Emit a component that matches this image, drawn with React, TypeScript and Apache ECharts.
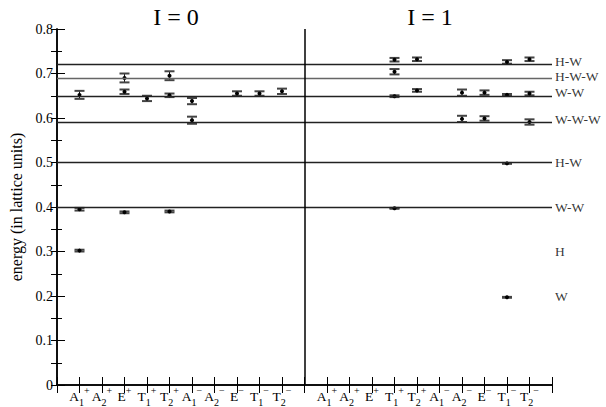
import React, { useEffect, useRef } from "react";
import * as echarts from "echarts";

// Category labels (irreps): base letter, subscript, parity superscript
const catBase = ["A", "A", "E", "T", "T", "A", "A", "E", "T", "T"];
const catSub = ["1", "2", "", "1", "2", "1", "2", "", "1", "2"];
const catSup = ["+", "+", "+", "+", "+", "−", "−", "−", "−", "−"];

// Panel titles
const panelTitles = ["I = 0", "I = 1"];

// I = 0 levels: category index (1..10), energy, error
const i0Cat = [1, 1, 1, 3, 3, 3, 4, 5, 5, 5, 6, 6, 8, 9, 10];
const i0Energy = [0.302, 0.395, 0.652, 0.388, 0.659, 0.690, 0.644, 0.390, 0.651, 0.695, 0.595, 0.638, 0.655, 0.655, 0.660];
const i0Err = [0.002, 0.003, 0.009, 0.002, 0.005, 0.010, 0.006, 0.002, 0.004, 0.010, 0.008, 0.007, 0.005, 0.005, 0.006];

// I = 1 levels: category index (1..10), energy, error
const i1Cat = [4, 4, 4, 4, 5, 5, 7, 7, 8, 8, 9, 9, 9, 9, 10, 10, 10];
const i1Energy = [0.397, 0.649, 0.704, 0.731, 0.662, 0.732, 0.598, 0.657, 0.599, 0.657, 0.197, 0.498, 0.652, 0.726, 0.591, 0.655, 0.732];
const i1Err = [0.001, 0.002, 0.006, 0.004, 0.003, 0.004, 0.007, 0.007, 0.005, 0.005, 0.001, 0.001, 0.002, 0.004, 0.006, 0.004, 0.004];

// Threshold lines and right-hand labels
const lineValues = [0.723, 0.695, 0.652, 0.591, 0.499, 0.397];
const lineColors = ["#222", "#666", "#222", "#222", "#222", "#222"];
const thresholdValues = [0.726, 0.694, 0.658, 0.597, 0.499, 0.399, 0.301, 0.198];
const thresholdNames = ["H-W", "H-W-W", "W-W", "W-W-W", "H-W", "W-W", "H", "W"];

const FONT = '"Liberation Serif", "Times New Roman", Times, serif';

function catLabel(v: number): string {
  let i = Math.round(v);
  if (i === 0 || i === 11 || i === 22) return "";
  if (i > 11) i -= 11;
  const k = i - 1;
  if (k < 0 || k > 9) return "";
  if (catSub[k]) return `{m|${catBase[k]}}{sb|${catSub[k]}}{sp|${catSup[k]}}`;
  return `{m|${catBase[k]}}{sp|${catSup[k]}}`;
}

export default function App() {
  const ref = useRef<HTMLDivElement>(null);
  useEffect(() => {
    if (!ref.current) return;
    const chart = echarts.init(ref.current, null, { renderer: "svg" });
    const d0 = i0Cat.map((c, i) => [c, i0Energy[i], i0Err[i]]);
    const d1 = i1Cat.map((c, i) => [c + 11, i1Energy[i], i1Err[i]]);
    const renderItem = (params: any, api: any) => {
      const x = api.value(0), y = api.value(1), e = api.value(2);
      const c = api.coord([x, y]);
      const t = api.coord([x, y + e]);
      const b = api.coord([x, y - e]);
      const hw = 5;
      const cap = { stroke: "#444", lineWidth: 2 };
      const st = { stroke: "#111", lineWidth: 1 };
      return {
        type: "group",
        children: [
          { type: "line", shape: { x1: c[0], y1: t[1], x2: c[0], y2: b[1] }, style: st },
          { type: "line", shape: { x1: c[0] - hw, y1: t[1], x2: c[0] + hw, y2: t[1] }, style: cap },
          { type: "line", shape: { x1: c[0] - hw, y1: b[1], x2: c[0] + hw, y2: b[1] }, style: cap },
          { type: "circle", shape: { cx: c[0], cy: c[1], r: 2 }, style: { fill: "#000" } },
        ],
      };
    };
    const rich = {
      m: { fontFamily: FONT, fontSize: 13.5, color: "#000", lineHeight: 22 },
      sp: { fontFamily: FONT, fontSize: 10, color: "#000", lineHeight: 11, verticalAlign: "top" },
      sb: { fontFamily: FONT, fontSize: 10, color: "#000", lineHeight: 10, verticalAlign: "bottom" },
    };
    const axisLine = { show: true, lineStyle: { color: "#000", width: 1.5 } };
    chart.setOption({
      animation: false,
      backgroundColor: "#fff",
      title: panelTitles.map((t, i) => ({
        text: t,
        left: i === 0 ? 171 : 425,
        textAlign: "center",
        top: 0,
        textStyle: { fontFamily: FONT, fontSize: 24, fontWeight: "normal", color: "#000" },
      })),
      grid: { left: 45, right: 54, top: 29, bottom: 21.5 },
      xAxis: [
        {
          type: "value", min: 0, max: 22, interval: 1, position: "bottom",
          axisLine, splitLine: { show: false },
          axisTick: { inside: true, length: 8, lineStyle: { color: "#000" } },
          axisLabel: { margin: 0, formatter: (v: number) => catLabel(v), rich, showMinLabel: true, showMaxLabel: true },
        },
        {
          type: "value", min: 0, max: 22, interval: 1, position: "top",
          axisLine, splitLine: { show: false },
          axisTick: { inside: true, length: 8, lineStyle: { color: "#000" } },
          axisLabel: { show: false },
        },
      ],
      yAxis: [
        {
          type: "value", min: 0, max: 0.8, interval: 0.1, position: "left",
          name: "energy (in lattice units)", nameLocation: "middle", nameGap: 33,
          nameTextStyle: { fontFamily: FONT, fontSize: 16, color: "#000" },
          axisLine, splitLine: { show: false },
          axisTick: { inside: true, length: 8, lineStyle: { color: "#000" } },
          minorTick: { show: true, splitNumber: 2, length: 5, lineStyle: { color: "#000" } },
          axisLabel: {
            fontFamily: FONT, fontSize: 14, color: "#000", margin: 4,
            formatter: (v: number) => (v === 0 ? "0" : v.toFixed(1)),
          },
        },
        {
          type: "value", min: 0, max: 0.8, interval: 0.05, position: "right",
          axisLine, splitLine: { show: false },
          axisTick: { inside: true, length: 6, lineStyle: { color: "#000" } },
          axisLabel: { show: false },
        },
      ],
      series: [
        {
          type: "custom", name: "I=0", xAxisIndex: 0, yAxisIndex: 0, data: d0, renderItem,
          markLine: {
            silent: true, symbol: "none", label: { show: false },
            data: [
              ...lineValues.map((v, i) => ({ yAxis: v, lineStyle: { color: lineColors[i], width: 1.3, type: "solid" } })),
              { xAxis: 11, lineStyle: { color: "#000", width: 1.5, type: "solid" } },
            ],
          },
        },
        { type: "custom", name: "I=1", xAxisIndex: 0, yAxisIndex: 0, data: d1, renderItem },
        {
          type: "scatter", name: "thresholds", xAxisIndex: 0, yAxisIndex: 0, symbolSize: 0,
          data: thresholdValues.map((v, i) => ({ value: [22, v], name: thresholdNames[i] })),
          label: {
            show: true, position: "right", distance: 3,
            formatter: (p: any) => p.name,
            fontFamily: FONT, fontSize: 13.5, color: "#000",
          },
        },
      ],
    });
    return () => chart.dispose();
  }, []);
  return (
    <div
      ref={ref}
      style={{ position: "fixed", left: 0, top: 0, width: 606, height: 407, background: "#fff" }}
    />
  );
}
